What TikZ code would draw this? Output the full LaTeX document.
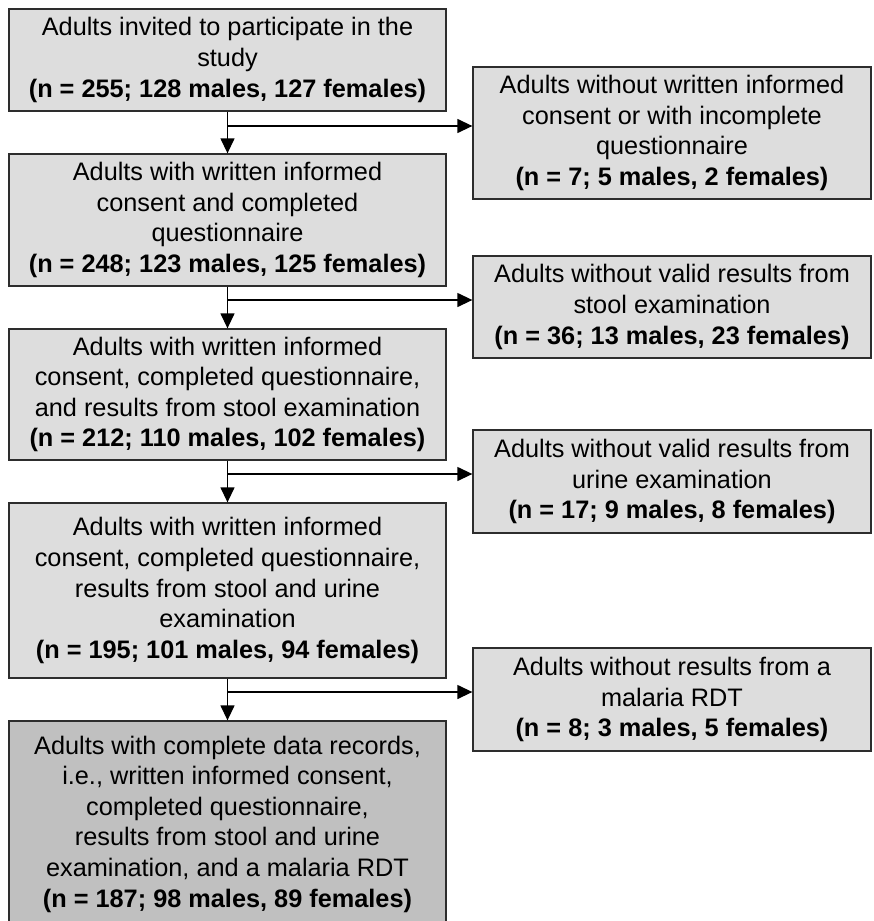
\documentclass[tikz,border=0pt]{standalone}
\usepackage{fontspec}
\setmainfont{Liberation Sans}
\usepackage{tikz}
\usetikzlibrary{arrows.meta}
\definecolor{boxgray}{RGB}{221,221,221}
\definecolor{finalgray}{RGB}{192,192,192}
\definecolor{edgegray}{RGB}{45,45,45}

\begin{document}
\begin{tikzpicture}[x=1pt, y=-1pt,
  box/.style={draw=edgegray, line width=1.3pt, fill=boxgray, align=center, inner sep=2pt, font=\fontsize{25.3}{30.6}\selectfont},
  leftbox/.style={box, minimum width=437pt},
  outbox/.style={box, minimum width=398pt},
  flow/.style={line width=1.3pt, -{Triangle[length=15pt, width=14pt]}}]
\useasboundingbox (0, 0) rectangle (873, 921);

\node[leftbox, minimum height=102pt] (invited) at (227.5, 60) {Adults invited to participate in the\\ study\\ \textbf{(n = 255; 128 males, 127 females)}};
\node[leftbox, minimum height=132pt] (consent) at (227.5, 220) {Adults with written informed\\ consent and completed\\ questionnaire\\ \textbf{(n = 248; 123 males, 125 females)}};
\node[leftbox, minimum height=131pt] (stool) at (227.5, 394.5) {Adults with written informed\\ consent, completed questionnaire,\\ and results from stool examination\\ \textbf{(n = 212; 110 males, 102 females)}};
\node[leftbox, minimum height=175pt] (urine) at (227.5, 590.5) {Adults with written informed\\ consent, completed questionnaire,\\ results from stool and urine\\ examination\\ \textbf{(n = 195; 101 males, 94 females)}};
\node[leftbox, fill=finalgray, minimum height=206pt] (complete) at (227.5, 824) {Adults with complete data records,\\ i.e., written informed consent,\\ completed questionnaire,\\ results from stool and urine\\ examination, and a malaria RDT\\ \textbf{(n = 187; 98 males, 89 females)}};

\node[outbox, minimum height=132pt] (noconsent) at (672, 133) {Adults without written informed\\ consent or with incomplete\\ questionnaire\\ \textbf{(n = 7; 5 males, 2 females)}};
\node[outbox, minimum height=102pt] (nostool) at (672, 307) {Adults without valid results from\\ stool examination\\ \textbf{(n = 36; 13 males, 23 females)}};
\node[outbox, minimum height=103pt] (nourine) at (672, 481.5) {Adults without valid results from\\ urine examination\\ \textbf{(n = 17; 9 males, 8 females)}};
\node[outbox, minimum height=103pt] (nordt) at (672, 699.5) {Adults without results from a\\ malaria RDT\\ \textbf{(n = 8; 3 males, 5 females)}};

\coordinate (split1) at (227.5, 126);
\coordinate (split2) at (227.5, 300);
\coordinate (split3) at (227.5, 474);
\coordinate (split4) at (227.5, 692);

\draw[flow] (invited) -- (consent);
\draw[flow] (consent) -- (stool);
\draw[flow] (stool) -- (urine);
\draw[flow] (urine) -- (complete);

\draw[flow] (split1) -- (split1 -| noconsent.west);
\draw[flow] (split2) -- (split2 -| nostool.west);
\draw[flow] (split3) -- (split3 -| nourine.west);
\draw[flow] (split4) -- (split4 -| nordt.west);
\end{tikzpicture}
\end{document}
